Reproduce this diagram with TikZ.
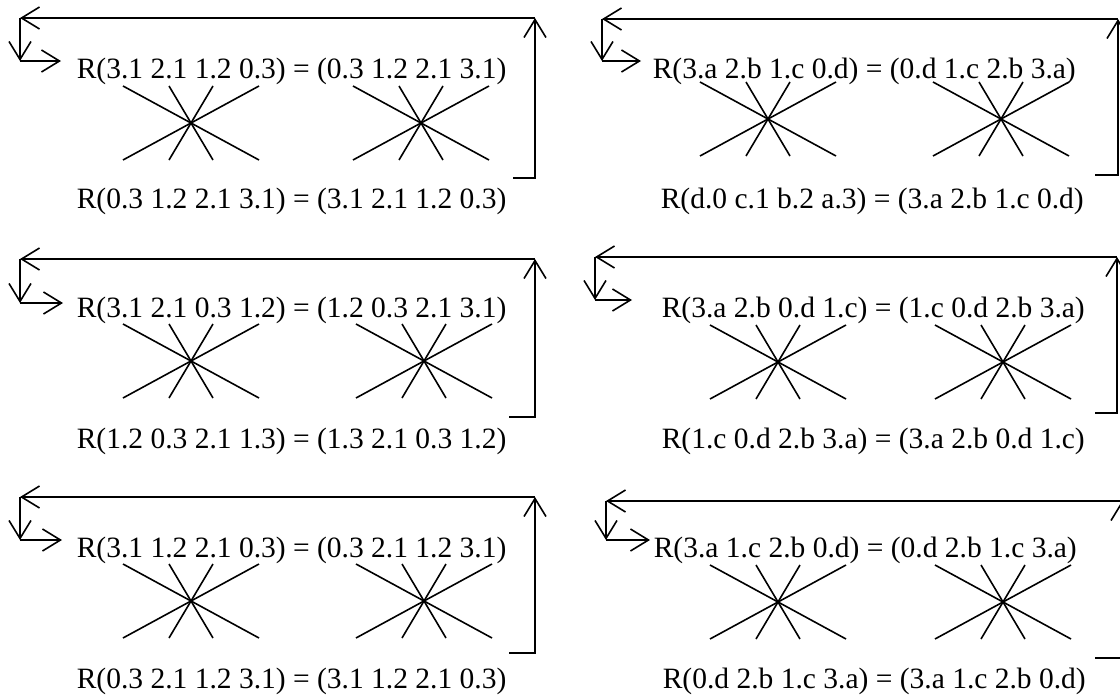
\documentclass[tikz,border=0pt]{standalone}
\usepackage{fontspec}
\setmainfont{Liberation Serif}
\usetikzlibrary{arrows.meta}
\newcommand\starcross[2]{%
  \draw[crossline] (#1-68,#2-37) -- (#1+68,#2+37);
  \draw[crossline] (#1+68,#2-37) -- (#1-68,#2+37);
  \draw[crossline] (#1-22,#2-37) -- (#1+22,#2+37);
  \draw[crossline] (#1+22,#2-37) -- (#1-22,#2+37);
}
\begin{document}
\begin{tikzpicture}[x=1pt,y=-1pt, line width=1.6pt,
  arr/.style={-{Straight Barb[length=18pt,width=22pt]}},
  crossline/.style={line width=1.6pt},
  eq/.style={anchor=base west, inner sep=0pt, font=\fontsize{29.5}{34}\selectfont},
]
\useasboundingbox (0,0) rectangle (1120,696);

% ---------- panel 1 ----------
\coordinate (p1tl) at (20,18); \coordinate (p1tr) at (535,18);
\coordinate (p1bl) at (20,61); \coordinate (p1ae) at (61,61);
\coordinate (p1br) at (535,178); \coordinate (p1bs) at (513,178);
\node[eq] (p1top) at (76,78) {R(3.1 2.1 1.2 0.3) = (0.3 1.2 2.1 3.1)};
\node[eq] (p1bot) at (76,208) {R(0.3 1.2 2.1 3.1) = (3.1 2.1 1.2 0.3)};
\draw[arr] (p1bs) -- (p1br) -- (p1tr);
\draw[arr] (p1tr) -- (p1tl);
\draw[arr] (p1tl) -- (p1bl);
\draw[arr] (p1bl) -- (p1ae);
\starcross{191}{123}
\starcross{421}{123}

% ---------- panel 2 ----------
\coordinate (p2tl) at (20,259); \coordinate (p2tr) at (535,259);
\coordinate (p2bl) at (20,303); \coordinate (p2ae) at (63,303);
\coordinate (p2br) at (535,417); \coordinate (p2bs) at (509,417);
\node[eq] (p2top) at (76,317) {R(3.1 2.1 0.3 1.2) = (1.2 0.3 2.1 3.1)};
\node[eq] (p2bot) at (76,448) {R(1.2 0.3 2.1 1.3) = (1.3 2.1 0.3 1.2)};
\draw[arr] (p2bs) -- (p2br) -- (p2tr);
\draw[arr] (p2tr) -- (p2tl);
\draw[arr] (p2tl) -- (p2bl);
\draw[arr] (p2bl) -- (p2ae);
\starcross{191}{361}
\starcross{424}{361}

% ---------- panel 3 ----------
\coordinate (p3tl) at (20,497); \coordinate (p3tr) at (535,497);
\coordinate (p3bl) at (20,540); \coordinate (p3ae) at (62,540);
\coordinate (p3br) at (535,653); \coordinate (p3bs) at (509,653);
\node[eq] (p3top) at (76,557) {R(3.1 1.2 2.1 0.3) = (0.3 2.1 1.2 3.1)};
\node[eq] (p3bot) at (76,688) {R(0.3 2.1 1.2 3.1) = (3.1 1.2 2.1 0.3)};
\draw[arr] (p3bs) -- (p3br) -- (p3tr);
\draw[arr] (p3tr) -- (p3tl);
\draw[arr] (p3tl) -- (p3bl);
\draw[arr] (p3bl) -- (p3ae);
\starcross{191}{601}
\starcross{424}{601}

% ---------- panel 4 ----------
\coordinate (p4tl) at (602,19); \coordinate (p4tr) at (1118,19);
\coordinate (p4bl) at (602,61); \coordinate (p4ae) at (641,61);
\coordinate (p4br) at (1118,175); \coordinate (p4bs) at (1095,175);
\node[eq] (p4top) at (652,78) {R(3.a 2.b 1.c 0.d) = (0.d 1.c 2.b 3.a)};
\node[eq] (p4bot) at (660,208) {R(d.0 c.1 b.2 a.3) = (3.a 2.b 1.c 0.d)};
\draw[arr] (p4bs) -- (p4br) -- (p4tr);
\draw[arr] (p4tr) -- (p4tl);
\draw[arr] (p4tl) -- (p4bl);
\draw[arr] (p4bl) -- (p4ae);
\starcross{768}{119}
\starcross{1001}{119}

% ---------- panel 5 ----------
\coordinate (p5tl) at (595,257); \coordinate (p5tr) at (1117,257);
\coordinate (p5bl) at (595,300); \coordinate (p5ae) at (632,300);
\coordinate (p5br) at (1117,413); \coordinate (p5bs) at (1095,413);
\node[eq] (p5top) at (661,317) {R(3.a 2.b 0.d 1.c) = (1.c 0.d 2.b 3.a)};
\node[eq] (p5bot) at (661,448) {R(1.c 0.d 2.b 3.a) = (3.a 2.b 0.d 1.c)};
\draw[arr] (p5bs) -- (p5br) -- (p5tr);
\draw[arr] (p5tr) -- (p5tl);
\draw[arr] (p5tl) -- (p5bl);
\draw[arr] (p5bl) -- (p5ae);
\starcross{778}{362}
\starcross{1003}{362}

% ---------- panel 6 ----------
\coordinate (p6tl) at (606,501); \coordinate (p6tr) at (1122,501);
\coordinate (p6bl) at (606,540); \coordinate (p6ae) at (650,540);
\coordinate (p6br) at (1122,658); \coordinate (p6bs) at (1095,658);
\node[eq] (p6top) at (653,557) {R(3.a 1.c 2.b 0.d) = (0.d 2.b 1.c 3.a)};
\node[eq] (p6bot) at (662,688) {R(0.d 2.b 1.c 3.a) = (3.a 1.c 2.b 0.d)};
\draw[arr] (p6bs) -- (p6br) -- (p6tr);
\draw[arr] (p6tr) -- (p6tl);
\draw[arr] (p6tl) -- (p6bl);
\draw[arr] (p6bl) -- (p6ae);
\starcross{778}{602}
\starcross{1003}{602}
\end{tikzpicture}
\end{document}
